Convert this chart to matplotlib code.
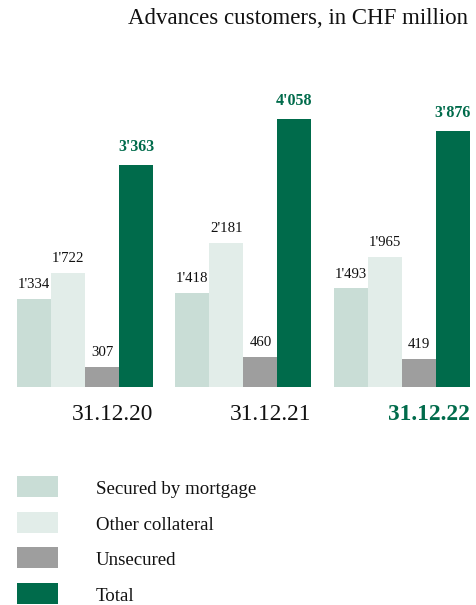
import matplotlib
matplotlib.use("Agg")
import matplotlib.pyplot as plt
from matplotlib.patches import Rectangle

dates = ["31.12.20", "31.12.21", "31.12.22"]
series = ["Secured by mortgage", "Other collateral", "Unsecured", "Total"]
mortgage = [1334, 1418, 1493]
other = [1722, 2181, 1965]
unsecured = [307, 460, 419]
total = [3363, 4058, 3876]
labels = {
    "mortgage": ["1'334", "1'418", "1'493"],
    "other": ["1'722", "2'181", "1'965"],
    "unsecured": ["307", "460", "419"],
    "total": ["3'363", "4'058", "3'876"],
}

colors = ["#c9ddd6", "#e2ede9", "#9e9e9e", "#006b4b"]
green = "#006b4b"
plt.rcParams["font.family"] = ["Liberation Serif", "DejaVu Serif"]

W, H = 476, 605
fig = plt.figure(figsize=(W / 100, H / 100), dpi=100)

def px(x0, y0, w, h):
    # pixel box (from top-left) -> figure fraction
    return [x0 / W, 1 - (y0 + h) / H, w / W, h / H]

ax = fig.add_axes(px(17, 90, 453, 297))
bw = 34
gstep = 158.5
data = [mortgage, other, unsecured, total]
keys = ["mortgage", "other", "unsecured", "total"]
for i, (vals, key) in enumerate(zip(data, keys)):
    xs = [g * gstep + i * bw for g in range(3)]
    ax.bar(xs, vals, width=bw, align="edge", color=colors[i], linewidth=0)
    for x, v, lab in zip(xs, vals, labels[key]):
        if key == "total":
            ax.text(x + bw / 2, v + 150, lab, ha="center", va="bottom",
                    fontsize=11.5, fontweight="bold", color=green)
        else:
            ax.text(x + bw / 2, v + 120, lab, ha="center", va="bottom",
                    fontsize=10.7, color="#111111")
ax.set_xlim(0, 453)
ax.set_ylim(0, 4500)
ax.axis("off")

for g, d in enumerate(dates):
    last = g == len(dates) - 1
    fig.text((17 + g * gstep + 4 * bw) / W, 1 - 415 / H, d, ha="right", va="center",
             fontsize=16.8, fontweight="bold" if last else "normal",
             color=green if last else "#111111")

fig.text(468 / W, 1 - 19 / H, "Advances customers, in CHF million",
         ha="right", va="center", fontsize=16.5, color="#111111")

for i, name in enumerate(series):
    y0 = 476 + i * 35.7
    fig.patches.append(Rectangle((17 / W, 1 - (y0 + 21) / H), 41 / W, 21 / H,
                                 transform=fig.transFigure, color=colors[i], linewidth=0))
    fig.text(96 / W, 1 - (y0 + 13.5) / H, name, ha="left", va="center",
             fontsize=13.6, color="#111111")

fig.savefig("out.png", dpi=100)
